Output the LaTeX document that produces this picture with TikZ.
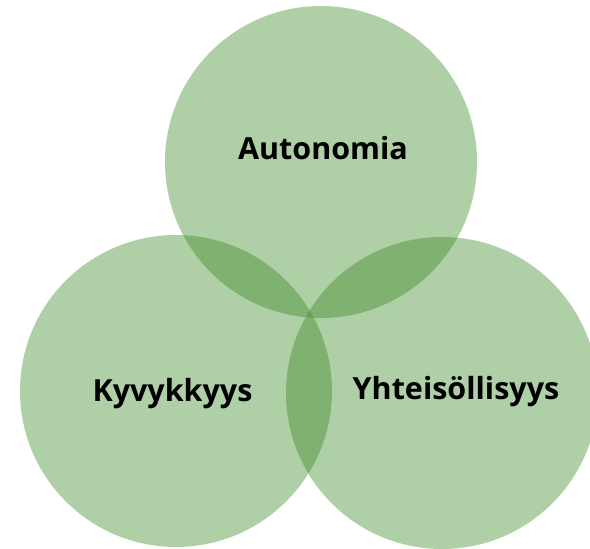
\documentclass[tikz,border=0pt]{standalone}
\usepackage{fontspec}
\setmainfont{Open Sans}
\begin{document}
\begin{tikzpicture}[x=1pt,y=1pt,
  venn/.style={circle, minimum size=312pt, inner sep=0pt, fill=vgreen, fill opacity=0.4, draw=none},
  lbl/.style={anchor=base, font=\fontsize{30.5}{36}\selectfont\bfseries, text=black}]
\definecolor{vgreen}{RGB}{55,135,33}
\useasboundingbox (0,0) rectangle (590,549);
\clip (0,0) rectangle (590,549);
\node[venn] (top) at (321,387) {};
\node[venn] (left) at (176,158) {};
\node[venn] (right) at (442,156) {};
\node[lbl] (ta) at (323,389) {Autonomia};
\node[lbl] (tk) at (172.5,147.3) {Kyvykkyys};
\node[lbl] (ty) at (456,149) {Yhteisöllisyys};
\end{tikzpicture}
\end{document}
